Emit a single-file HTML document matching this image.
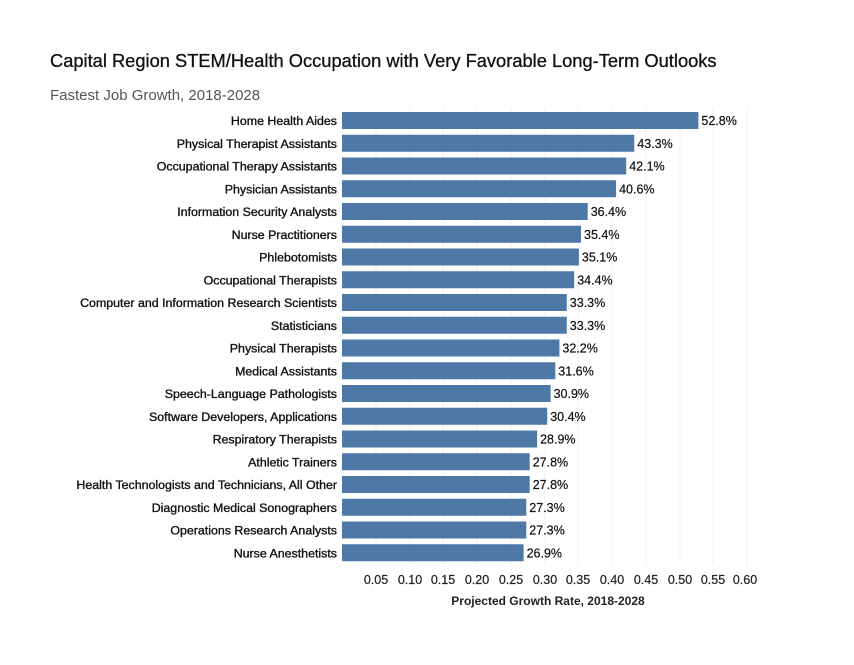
<!DOCTYPE html>
<html><head><meta charset="utf-8"><style>
body{margin:0;background:#fff;font-family:"Liberation Sans",sans-serif;}
</style></head><body>
<svg width="854" height="660" xmlns="http://www.w3.org/2000/svg" font-family="Liberation Sans, sans-serif">
<rect width="854" height="660" fill="#fff"/>
<text x="50" y="67" font-size="18.3" fill="#111" stroke="#111" stroke-width="0.3">Capital Region STEM/Health Occupation with Very Favorable Long-Term Outlooks</text>
<text x="50" y="100" font-size="15" fill="#555">Fastest Job Growth, 2018-2028</text>
<g stroke="#f0f0f0" stroke-width="1">
<line x1="376" y1="108" x2="376" y2="565"/><line x1="410" y1="108" x2="410" y2="565"/><line x1="443" y1="108" x2="443" y2="565"/><line x1="477" y1="108" x2="477" y2="565"/><line x1="511" y1="108" x2="511" y2="565"/><line x1="545" y1="108" x2="545" y2="565"/><line x1="578" y1="108" x2="578" y2="565"/><line x1="612" y1="108" x2="612" y2="565"/><line x1="646" y1="108" x2="646" y2="565"/><line x1="680" y1="108" x2="680" y2="565"/><line x1="713" y1="108" x2="713" y2="565"/><line x1="747" y1="108" x2="747" y2="565"/>
</g>
<g fill="#4e79a7">
<rect x="342" y="112" width="356.4" height="17"/>
<rect x="342" y="134.75" width="292.3" height="17"/>
<rect x="342" y="157.5" width="284.2" height="17"/>
<rect x="342" y="180.25" width="274.1" height="17"/>
<rect x="342" y="203" width="245.7" height="17"/>
<rect x="342" y="225.75" width="239" height="17"/>
<rect x="342" y="248.5" width="236.9" height="17"/>
<rect x="342" y="271.25" width="232.2" height="17"/>
<rect x="342" y="294" width="224.8" height="17"/>
<rect x="342" y="316.75" width="224.8" height="17"/>
<rect x="342" y="339.5" width="217.4" height="17"/>
<rect x="342" y="362.25" width="213.3" height="17"/>
<rect x="342" y="385" width="208.6" height="17"/>
<rect x="342" y="407.75" width="205.2" height="17"/>
<rect x="342" y="430.5" width="195.1" height="17"/>
<rect x="342" y="453.25" width="187.7" height="17"/>
<rect x="342" y="476" width="187.7" height="17"/>
<rect x="342" y="498.75" width="184.3" height="17"/>
<rect x="342" y="521.5" width="184.3" height="17"/>
<rect x="342" y="544.25" width="181.6" height="17"/>
</g>
<g font-size="12.4" fill="#111" stroke="#111" stroke-width="0.35" text-anchor="end">
<text x="337" y="125">Home Health Aides</text>
<text x="337" y="147.75">Physical Therapist Assistants</text>
<text x="337" y="170.5">Occupational Therapy Assistants</text>
<text x="337" y="193.25">Physician Assistants</text>
<text x="337" y="216">Information Security Analysts</text>
<text x="337" y="238.75">Nurse Practitioners</text>
<text x="337" y="261.5">Phlebotomists</text>
<text x="337" y="284.25">Occupational Therapists</text>
<text x="337" y="307">Computer and Information Research Scientists</text>
<text x="337" y="329.75">Statisticians</text>
<text x="337" y="352.5">Physical Therapists</text>
<text x="337" y="375.25">Medical Assistants</text>
<text x="337" y="398">Speech-Language Pathologists</text>
<text x="337" y="420.75">Software Developers, Applications</text>
<text x="337" y="443.5">Respiratory Therapists</text>
<text x="337" y="466.25">Athletic Trainers</text>
<text x="337" y="489">Health Technologists and Technicians, All Other</text>
<text x="337" y="511.75">Diagnostic Medical Sonographers</text>
<text x="337" y="534.5">Operations Research Analysts</text>
<text x="337" y="557.25">Nurse Anesthetists</text>
</g>
<g font-size="12.5" fill="#111" stroke="#111" stroke-width="0.2">
<text x="701.4" y="125">52.8%</text>
<text x="637.3" y="147.75">43.3%</text>
<text x="629.2" y="170.5">42.1%</text>
<text x="619.1" y="193.25">40.6%</text>
<text x="590.7" y="216">36.4%</text>
<text x="584" y="238.75">35.4%</text>
<text x="581.9" y="261.5">35.1%</text>
<text x="577.2" y="284.25">34.4%</text>
<text x="569.8" y="307">33.3%</text>
<text x="569.8" y="329.75">33.3%</text>
<text x="562.4" y="352.5">32.2%</text>
<text x="558.3" y="375.25">31.6%</text>
<text x="553.6" y="398">30.9%</text>
<text x="550.2" y="420.75">30.4%</text>
<text x="540.1" y="443.5">28.9%</text>
<text x="532.7" y="466.25">27.8%</text>
<text x="532.7" y="489">27.8%</text>
<text x="529.3" y="511.75">27.3%</text>
<text x="529.3" y="534.5">27.3%</text>
<text x="526.6" y="557.25">26.9%</text>
</g>
<g font-size="12.5" fill="#222" stroke="#222" stroke-width="0.2" text-anchor="middle">
<text x="376" y="584">0.05</text><text x="410" y="584">0.10</text><text x="443" y="584">0.15</text><text x="477" y="584">0.20</text><text x="511" y="584">0.25</text><text x="545" y="584">0.30</text><text x="578" y="584">0.35</text><text x="612" y="584">0.40</text><text x="646" y="584">0.45</text><text x="680" y="584">0.50</text><text x="713" y="584">0.55</text><text x="745" y="584">0.60</text>
</g>
<text x="548" y="605" font-size="12" font-weight="bold" fill="#222" text-anchor="middle">Projected Growth Rate, 2018-2028</text>
</svg>
</body></html>
